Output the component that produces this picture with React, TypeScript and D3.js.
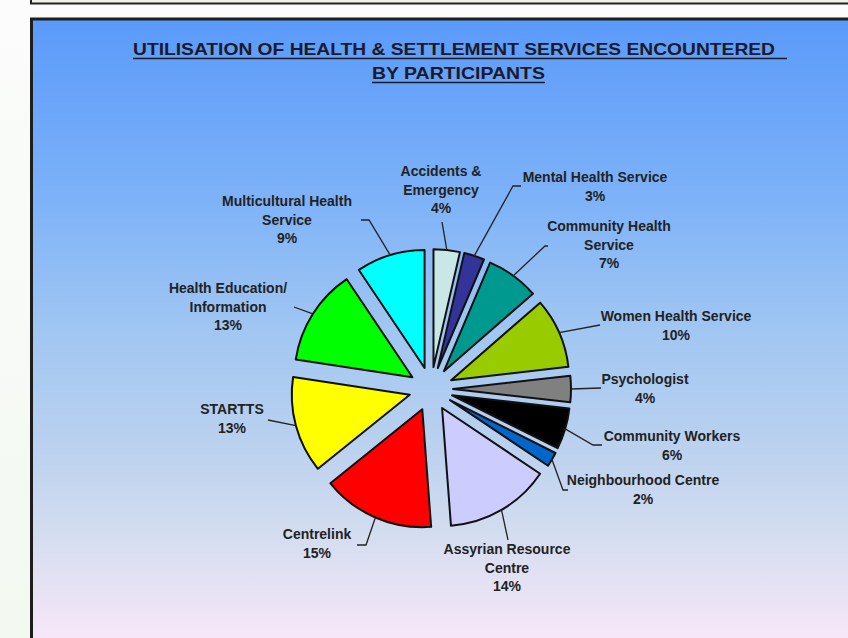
import React from 'react';
import * as d3 from 'd3';

// ---- data ----
const categories = [
  'Accidents & Emergency',
  'Mental Health Service',
  'Community Health Service',
  'Women Health Service',
  'Psychologist',
  'Community Workers',
  'Neighbourhood Centre',
  'Assyrian Resource Centre',
  'Centrelink',
  'STARTTS',
  'Health Education/ Information',
  'Multicultural Health Service',
];
const shares = [3.6, 2.8, 7.2, 9.6, 3.6, 5.6, 2.0, 14.4, 15.4, 13.2, 13.2, 9.4];
const labelLines = [
  ['Accidents &', 'Emergency'],
  ['Mental Health Service'],
  ['Community Health', 'Service'],
  ['Women Health Service'],
  ['Psychologist'],
  ['Community Workers'],
  ['Neighbourhood Centre'],
  ['Assyrian Resource', 'Centre'],
  ['Centrelink'],
  ['STARTTS'],
  ['Health Education/', 'Information'],
  ['Multicultural Health', 'Service'],
];
const titleLines = ['UTILISATION OF HEALTH  & SETTLEMENT SERVICES ENCOUNTERED', 'BY PARTICIPANTS'];

// ---- styles / layout ----
const colors = ['#c9e7e5', '#333399', '#009990', '#99cc00', '#808080', '#000000', '#0066cc', '#ccccff', '#ff0000', '#ffff00', '#00ff00', '#00ffff'];
// label anchor (center x, first baseline y), leader elbow point, optional horizontal end x
const labelLayout = [
  { x: 441, y: 176, ex: 442, ey: 222, hx: null },
  { x: 595, y: 182, ex: 513, ey: 186, hx: 521 },
  { x: 609, y: 231, ex: 545, ey: 246, hx: 548 },
  { x: 676, y: 321, ex: 600, ey: 325, hx: null },
  { x: 645, y: 384, ex: 601, ey: 388, hx: null },
  { x: 672, y: 441, ex: 593, ey: 445, hx: 602 },
  { x: 643, y: 485, ex: 563, ey: 490, hx: 568 },
  { x: 507, y: 554, ex: 508, ey: 540, hx: null },
  { x: 317, y: 539, ex: 366, ey: 545, hx: 357 },
  { x: 232, y: 414, ex: 268, ey: 420, hx: null },
  { x: 228, y: 293, ex: 294, ey: 307, hx: null },
  { x: 287, y: 206, ex: 369, ey: 220, hx: 361 },
];

const W = 848;
const H = 638;
const cx = 431;
const cy = 389;
const R = 118;
const EXPLODE = 22;
const LINE_H = 18.7;
const FONT = "'Liberation Sans', Arial, sans-serif";

export default function App() {
  const pie = d3.pie<number>().sort(null).startAngle(0).endAngle(2 * Math.PI);
  const arcs = pie(shares);
  const arcGen = d3.arc<d3.PieArcDatum<number>>().innerRadius(0).outerRadius(R);

  return (
    <svg width={W} height={H} style={{ position: 'absolute', left: 0, top: 0 }} xmlns="http://www.w3.org/2000/svg">
      <defs>
        <linearGradient id="bg" gradientUnits="userSpaceOnUse" x1="0" y1="19" x2="0" y2="638">
          <stop offset="0" stopColor="#5a9afa" />
          <stop offset="0.3" stopColor="#7fb3f8" />
          <stop offset="0.5" stopColor="#a0c6f2" />
          <stop offset="0.7" stopColor="#bcd2ef" />
          <stop offset="0.82" stopColor="#d2dcef" />
          <stop offset="1" stopColor="#f6e7f8" />
        </linearGradient>
        <linearGradient id="side" x1="0" y1="0" x2="0" y2="1">
          <stop offset="0" stopColor="#fbfcfb" />
          <stop offset="1" stopColor="#f3f8f1" />
        </linearGradient>
      </defs>
      <rect x={0} y={0} width={W} height={H} fill="url(#side)" />
      <rect x={31} y={-6} width={830} height={9.5} fill="#eef2ea" stroke="#222" strokeWidth={2} />
      <rect x={31.5} y={19} width={830} height={640} fill="url(#bg)" stroke="#1e1e1e" strokeWidth={3} />

      {/* title */}
      <g fontFamily={FONT} fontWeight="bold" fill="#1a1a2a">
        <text x={454} y={55} fontSize={16.5} textAnchor="middle" textLength={642} lengthAdjust="spacingAndGlyphs">
          {titleLines[0]}
        </text>
        <line x1={133} x2={787} y1={58.5} y2={58.5} stroke="#1a1a2a" strokeWidth={1.6} />
        <text x={458.5} y={79} fontSize={16.5} textAnchor="middle" textLength={173} lengthAdjust="spacingAndGlyphs">
          {titleLines[1]}
        </text>
        <line x1={372} x2={545} y1={82.5} y2={82.5} stroke="#1a1a2a" strokeWidth={1.6} />
      </g>

      {/* slices */}
      {arcs.map((a, i) => {
        const mid = (a.startAngle + a.endAngle) / 2;
        const dx = Math.sin(mid) * EXPLODE;
        const dy = -Math.cos(mid) * EXPLODE;
        return (
          <path
            key={categories[i]}
            d={arcGen(a) || ''}
            transform={`translate(${cx + dx},${cy + dy})`}
            fill={colors[i]}
            stroke="#111"
            strokeWidth={2}
            strokeLinejoin="round"
          />
        );
      })}

      {/* leader lines */}
      {arcs.map((a, i) => {
        const mid = (a.startAngle + a.endAngle) / 2;
        const sx = cx + Math.sin(mid) * (R + EXPLODE);
        const sy = cy - Math.cos(mid) * (R + EXPLODE);
        const L = labelLayout[i];
        const pts: [number, number][] = [[sx, sy], [L.ex, L.ey]];
        if (L.hx !== null) pts.push([L.hx, L.ey]);
        return <path key={'l' + i} d={d3.line()(pts) || ''} fill="none" stroke="#222" strokeWidth={1.3} />;
      })}

      {/* labels */}
      <g fontFamily={FONT} fontWeight="bold" fontSize={14} fill="#222" textAnchor="middle">
        {arcs.map((a, i) => {
          const L = labelLayout[i];
          const lines = [...labelLines[i], `${Math.round(shares[i])}%`];
          return (
            <text key={'t' + i} x={L.x} y={L.y}>
              {lines.map((s, j) => (
                <tspan key={j} x={L.x} y={L.y + j * LINE_H}>
                  {s}
                </tspan>
              ))}
            </text>
          );
        })}
      </g>
    </svg>
  );
}
